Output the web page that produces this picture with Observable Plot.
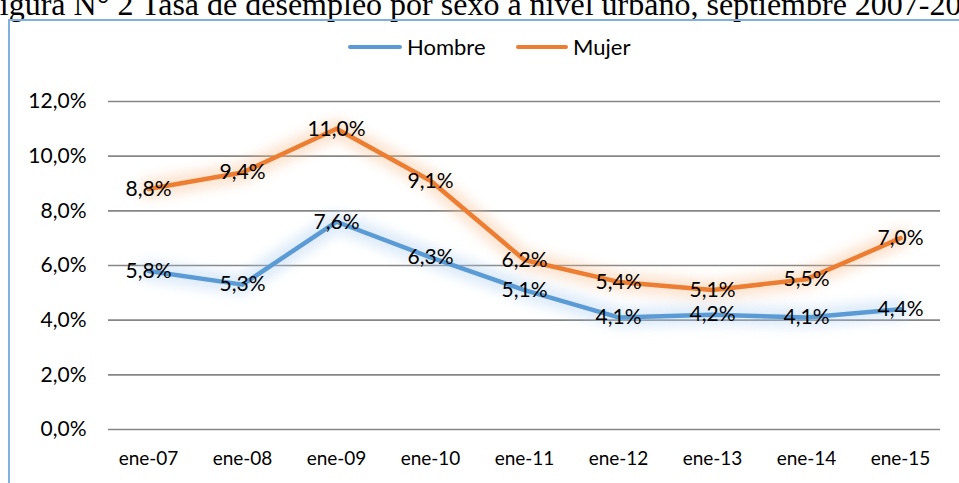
<!DOCTYPE html>
<html>
<head>
<meta charset="utf-8">
<script src="https://cdn.jsdelivr.net/npm/d3@7"></script>
<script src="https://cdn.jsdelivr.net/npm/@observablehq/plot@0.6"></script>
<style>
  html, body { margin: 0; padding: 0; background: #fff; }
  #wrap { position: relative; width: 959px; height: 483px; overflow: hidden; background: #fff; }
  #title { position: absolute; left: -18px; top: -11px; line-height: 31px; white-space: nowrap; font-family: "Liberation Serif", "Times New Roman", serif; font-size: 32px; color: #000; }
  #frameTop { position: absolute; left: 8px; top: 19px; width: 960px; height: 2px; background: #7fb0de; }
  #frameLeft { position: absolute; left: 8px; top: 19px; width: 2px; height: 470px; background: #7fb0de; }
  #legend { position: absolute; top: 33px; left: 0; width: 959px; font-family: Lato, sans-serif; font-size: 22px; color: #000; }
  .item { position: absolute; display: flex; align-items: center; gap: 5px; }
  .swatch { width: 54px; height: 4px; border-radius: 2px; }
  #chart { position: absolute; left: 0; top: 0; }
</style>
</head>
<body>
<div id="wrap">
  <div id="title">Figura N° 2 Tasa de desempleo por sexo a nivel urbano, septiembre 2007-2015</div>
  <div id="frameTop"></div>
  <div id="frameLeft"></div>
  <div id="legend"></div>
  <div id="chart"></div>
</div>
<script>
const categories = ["ene-07","ene-08","ene-09","ene-10","ene-11","ene-12","ene-13","ene-14","ene-15"];
const hombre = [5.8, 5.3, 7.6, 6.3, 5.1, 4.1, 4.2, 4.1, 4.4];
const mujer  = [8.8, 9.4, 11.0, 9.1, 6.2, 5.4, 5.1, 5.5, 7.0];
const seriesNames = ["Hombre", "Mujer"];
const seriesColors = ["#5B9BD5", "#ED7D31"];
const glowColors = ["#a9cdf0", "#f8bb8c"];
const yTicks = [0, 2, 4, 6, 8, 10, 12];

const rows = [];
[hombre, mujer].forEach((vals, s) => {
  vals.forEach((v, i) => rows.push({cat: categories[i], value: v, serie: seriesNames[s]}));
});

const fmt = v => v.toFixed(1).replace(".", ",") + "%";

const legend = document.getElementById("legend");
const legendX = [348, 516];
const swatchW = [54, 52];
seriesNames.forEach((n, i) => {
  const it = document.createElement("div");
  it.className = "item";
  it.style.left = legendX[i] + "px";
  it.innerHTML = `<span class="swatch" style="background:${seriesColors[i]};width:${swatchW[i]}px"></span><span>${n}</span>`;
  legend.appendChild(it);
});

const marks = [
  Plot.ruleY(yTicks, {stroke: "#868686", strokeWidth: 1.6}),
];
seriesNames.forEach((n, i) => {
  const data = rows.filter(d => d.serie === n);
  marks.push(Plot.line(data, {x: "cat", y: "value", stroke: glowColors[i], strokeWidth: 20, strokeOpacity: 0.4, strokeLinejoin: "round", strokeLinecap: "round", imageFilter: "blur(6px)"}));
});
seriesNames.forEach((n, i) => {
  const data = rows.filter(d => d.serie === n);
  marks.push(Plot.line(data, {x: "cat", y: "value", stroke: seriesColors[i], strokeWidth: 4.5, strokeLinejoin: "round", strokeLinecap: "round"}));
});
marks.push(Plot.text(rows, {x: "cat", y: "value", text: d => fmt(d.value), fill: "#000", fontSize: 21, fontFamily: "Lato, sans-serif"}));

const plot = Plot.plot({
  width: 959,
  height: 483,
  marginTop: 101,
  marginBottom: 54,
  marginLeft: 108,
  marginRight: 19,
  style: {fontFamily: "Lato, sans-serif", fontSize: "19px", color: "#000", background: "transparent"},
  x: {type: "point", domain: categories, padding: 0.42, label: null, tickSize: 0, tickPadding: 22},
  y: {domain: [0, 12], ticks: yTicks, tickFormat: d => fmt(d), label: null, tickSize: 0, tickPadding: 22},
  marks
});
// enlarge the y tick labels (percent values use a wider face in the reference)
d3.select(plot).selectAll('g[aria-label="y-axis tick label"], g[aria-label="y-axis"]').attr("font-size", 21).style("font-size", "21px");
document.getElementById("chart").appendChild(plot);
</script>
</body>
</html>
